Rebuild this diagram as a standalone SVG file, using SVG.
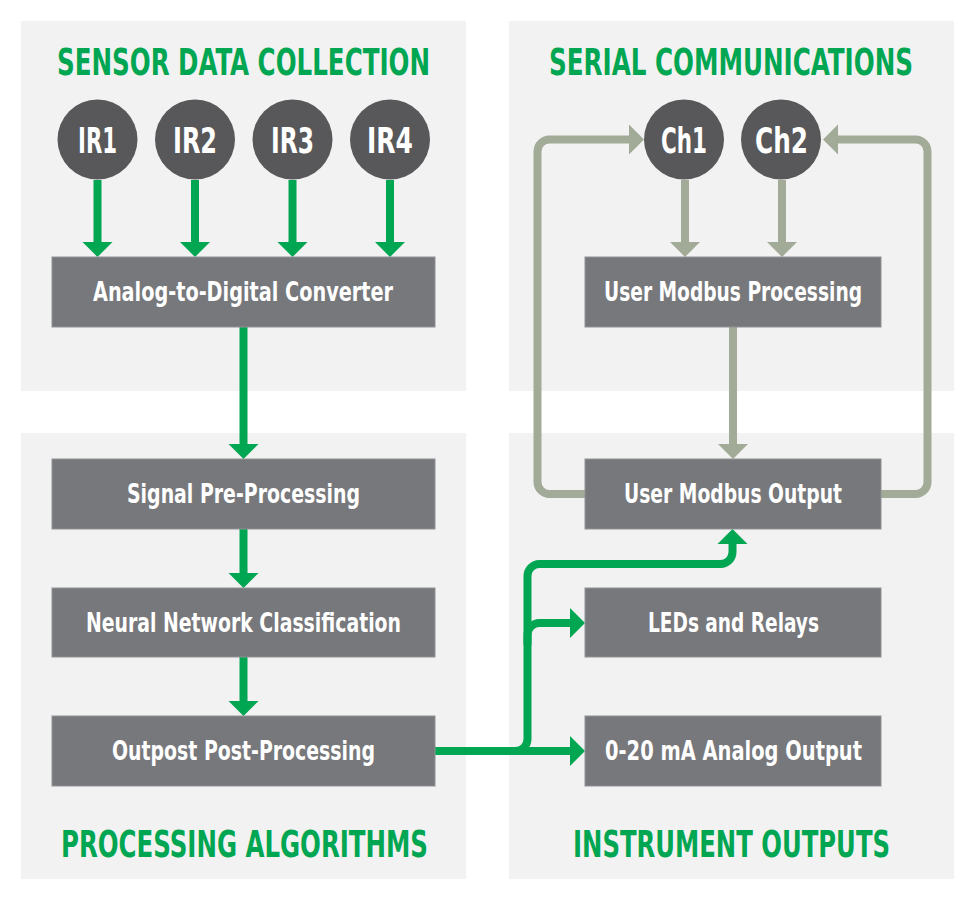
<svg xmlns="http://www.w3.org/2000/svg" width="975" height="900" viewBox="0 0 975 900">
<style>
.panel{fill:#f2f2f2}
.title{font-family:"Liberation Sans Narrow","DejaVu Sans Condensed","Liberation Sans",sans-serif;font-weight:bold;font-size:32px;fill:#00a651;text-anchor:middle}
.box{fill:#77787b;stroke:#909194;stroke-width:1}
.btxt{font-family:"Liberation Sans Narrow","DejaVu Sans Condensed","Liberation Sans",sans-serif;font-weight:bold;font-size:27px;fill:#ffffff;text-anchor:middle}
.circ{fill:#58585a}
.ctxt{font-family:"Liberation Sans Narrow","DejaVu Sans Condensed","Liberation Sans",sans-serif;font-weight:bold;font-size:36px;fill:#ffffff;text-anchor:middle}
.g{stroke:#00a651;stroke-width:8;fill:none}
.gh{fill:#00a651}
.s{stroke:#a2aa98;stroke-width:8;fill:none}
.sh{fill:#a2aa98}
</style>
<rect width="975" height="900" fill="#ffffff"/>
<g id="panels">
<rect class="panel" x="21" y="21" width="445" height="370"/>
<rect class="panel" x="21" y="433" width="445" height="446"/>
<rect class="panel" x="509" y="21" width="445" height="370"/>
<rect class="panel" x="509" y="433" width="445" height="446"/>
<text class="title" transform="translate(243.5 75) scale(1 1.15)" textLength="373" lengthAdjust="spacingAndGlyphs">SENSOR DATA COLLECTION</text>
<text class="title" transform="translate(731 75) scale(1 1.15)" textLength="364" lengthAdjust="spacingAndGlyphs">SERIAL COMMUNICATIONS</text>
<text class="title" transform="translate(244.5 857) scale(1 1.15)" textLength="367" lengthAdjust="spacingAndGlyphs">PROCESSING ALGORITHMS</text>
<text class="title" transform="translate(731.5 857) scale(1 1.15)" textLength="317" lengthAdjust="spacingAndGlyphs">INSTRUMENT OUTPUTS</text>
</g>
<g id="connectors">
<path class="g" d="M97.5 180V243M195 180V243M292.5 180V243M390 180V243"/>
<polygon class="gh" points="82.5,242 112.5,242 97.5,257"/>
<polygon class="gh" points="180,242 210,242 195,257"/>
<polygon class="gh" points="277.5,242 307.5,242 292.5,257"/>
<polygon class="gh" points="375,242 405,242 390,257"/>
<path class="g" d="M243.5 327V445M243.5 529V574M243.5 657V702"/>
<polygon class="gh" points="228.5,444 258.5,444 243.5,459"/>
<polygon class="gh" points="228.5,573 258.5,573 243.5,588"/>
<polygon class="gh" points="228.5,701 258.5,701 243.5,716"/>
<path class="g" d="M435 751H571"/>
<path class="g" d="M435 751H515.5A12 12 0 0 0 527.5 739V576A12 12 0 0 1 539.5 564H720.5A12 12 0 0 0 732.5 552V543"/>
<path class="g" d="M527.5 645V635A12 12 0 0 1 539.5 623H571"/>
<polygon class="gh" points="570,736 570,766 585,751"/>
<polygon class="gh" points="570,608 570,638 585,623"/>
<polygon class="gh" points="717.5,544 747.5,544 732.5,529"/>
<path class="s" d="M685 180V243M782 180V243M733 327V445"/>
<polygon class="sh" points="670,242 700,242 685,257"/>
<polygon class="sh" points="767,242 797,242 782,257"/>
<polygon class="sh" points="718,444 748,444 733,459"/>
<path class="s" d="M585 494H549.5A12 12 0 0 1 537.5 482V151.5A12 12 0 0 1 549.5 139.5H630"/>
<polygon class="sh" points="629,124.5 629,154.5 644,139.5"/>
<path class="s" d="M881 494H915.5A12 12 0 0 0 927.5 482V151.5A12 12 0 0 0 915.5 139.5H837"/>
<polygon class="sh" points="838,124.5 838,154.5 823,139.5"/>
</g>
<g id="ir1"><circle class="circ" cx="97.5" cy="139.5" r="40"/><text class="ctxt" x="97.5" y="153" textLength="39" lengthAdjust="spacingAndGlyphs">IR1</text></g>
<g id="ir2"><circle class="circ" cx="195" cy="139.5" r="40"/><text class="ctxt" x="195" y="153" textLength="44" lengthAdjust="spacingAndGlyphs">IR2</text></g>
<g id="ir3"><circle class="circ" cx="292.5" cy="139.5" r="40"/><text class="ctxt" x="292.5" y="153" textLength="43" lengthAdjust="spacingAndGlyphs">IR3</text></g>
<g id="ir4"><circle class="circ" cx="390" cy="139.5" r="40"/><text class="ctxt" x="390" y="153" textLength="46" lengthAdjust="spacingAndGlyphs">IR4</text></g>
<g id="ch1"><circle class="circ" cx="684" cy="139.5" r="40"/><text class="ctxt" x="684" y="153" textLength="46" lengthAdjust="spacingAndGlyphs">Ch1</text></g>
<g id="ch2"><circle class="circ" cx="781" cy="139.5" r="40"/><text class="ctxt" x="781.5" y="153" textLength="53" lengthAdjust="spacingAndGlyphs">Ch2</text></g>
<g id="adc"><rect class="box" x="52" y="257" width="383" height="70"/><text class="btxt" x="243" y="301" textLength="300" lengthAdjust="spacingAndGlyphs">Analog-to-Digital Converter</text></g>
<g id="signal"><rect class="box" x="52" y="459" width="383" height="70"/><text class="btxt" x="243.5" y="503" textLength="233" lengthAdjust="spacingAndGlyphs">Signal Pre-Processing</text></g>
<g id="neural"><rect class="box" x="52" y="588" width="383" height="69"/><text class="btxt" x="243.5" y="632" textLength="315" lengthAdjust="spacingAndGlyphs">Neural Network Classification</text></g>
<g id="outpost"><rect class="box" x="52" y="716" width="383" height="70"/><text class="btxt" x="243.5" y="760" textLength="263" lengthAdjust="spacingAndGlyphs">Outpost Post-Processing</text></g>
<g id="ump"><rect class="box" x="585" y="257" width="296" height="70"/><text class="btxt" x="733" y="301" textLength="258" lengthAdjust="spacingAndGlyphs">User Modbus Processing</text></g>
<g id="umo"><rect class="box" x="585" y="459" width="296" height="70"/><text class="btxt" x="733" y="503" textLength="218" lengthAdjust="spacingAndGlyphs">User Modbus Output</text></g>
<g id="leds"><rect class="box" x="585" y="588" width="296" height="69"/><text class="btxt" x="733.5" y="632" textLength="171" lengthAdjust="spacingAndGlyphs">LEDs and Relays</text></g>
<g id="analog"><rect class="box" x="585" y="716" width="296" height="70"/><text class="btxt" x="733.5" y="760" textLength="257" lengthAdjust="spacingAndGlyphs">0-20 mA Analog Output</text></g>
</svg>
